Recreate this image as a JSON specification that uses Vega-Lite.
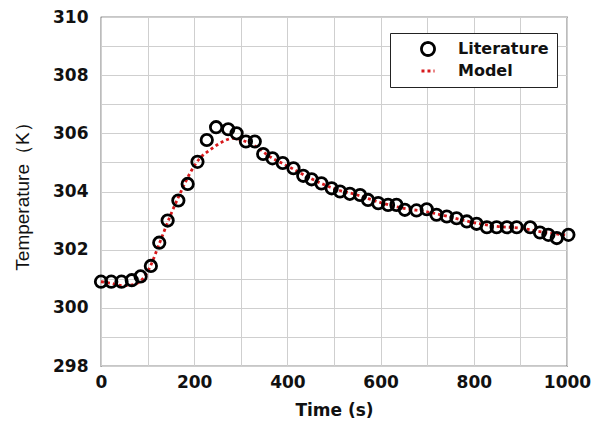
{
  "$schema": "https://vega.github.io/schema/vega-lite/v6.json",
  "autosize": {"type": "none"},
  "width": 466,
  "height": 349,
  "padding": {"left": 101, "top": 17, "right": 31, "bottom": 66},
  "background": "white",
  "config": {
    "font": "Liberation Sans",
    "view": {"stroke": "#222", "strokeWidth": 1.2},
    "axis": {"gridColor": "#cfcfcf", "gridWidth": 1, "ticks": false, "domain": false, "labelFont": "DejaVu Sans", "labelFontWeight": "bold", "labelFontSize": 17, "labelColor": "#111", "titleColor": "#111"}
  },
  "data": {"values": [
    {"t": 0, "T": 300.9, "series": "Literature"},
    {"t": 22, "T": 300.9, "series": "Literature"},
    {"t": 44, "T": 300.9, "series": "Literature"},
    {"t": 66, "T": 300.95, "series": "Literature"},
    {"t": 85, "T": 301.08, "series": "Literature"},
    {"t": 107, "T": 301.44, "series": "Literature"},
    {"t": 125, "T": 302.24, "series": "Literature"},
    {"t": 143, "T": 303.0, "series": "Literature"},
    {"t": 166, "T": 303.69, "series": "Literature"},
    {"t": 186, "T": 304.26, "series": "Literature"},
    {"t": 207, "T": 305.02, "series": "Literature"},
    {"t": 227, "T": 305.77, "series": "Literature"},
    {"t": 247, "T": 306.21, "series": "Literature"},
    {"t": 273, "T": 306.14, "series": "Literature"},
    {"t": 291, "T": 306.0, "series": "Literature"},
    {"t": 311, "T": 305.72, "series": "Literature"},
    {"t": 330, "T": 305.72, "series": "Literature"},
    {"t": 348, "T": 305.29, "series": "Literature"},
    {"t": 368, "T": 305.14, "series": "Literature"},
    {"t": 390, "T": 304.98, "series": "Literature"},
    {"t": 413, "T": 304.8, "series": "Literature"},
    {"t": 434, "T": 304.54, "series": "Literature"},
    {"t": 452, "T": 304.42, "series": "Literature"},
    {"t": 473, "T": 304.28, "series": "Literature"},
    {"t": 495, "T": 304.11, "series": "Literature"},
    {"t": 513, "T": 304.0, "series": "Literature"},
    {"t": 534, "T": 303.92, "series": "Literature"},
    {"t": 556, "T": 303.88, "series": "Literature"},
    {"t": 573, "T": 303.71, "series": "Literature"},
    {"t": 595, "T": 303.6, "series": "Literature"},
    {"t": 616, "T": 303.54, "series": "Literature"},
    {"t": 634, "T": 303.54, "series": "Literature"},
    {"t": 652, "T": 303.37, "series": "Literature"},
    {"t": 677, "T": 303.35, "series": "Literature"},
    {"t": 699, "T": 303.39, "series": "Literature"},
    {"t": 720, "T": 303.2, "series": "Literature"},
    {"t": 742, "T": 303.14, "series": "Literature"},
    {"t": 763, "T": 303.08, "series": "Literature"},
    {"t": 785, "T": 302.97, "series": "Literature"},
    {"t": 806, "T": 302.89, "series": "Literature"},
    {"t": 828, "T": 302.77, "series": "Literature"},
    {"t": 849, "T": 302.77, "series": "Literature"},
    {"t": 871, "T": 302.77, "series": "Literature"},
    {"t": 892, "T": 302.77, "series": "Literature"},
    {"t": 921, "T": 302.77, "series": "Literature"},
    {"t": 942, "T": 302.59, "series": "Literature"},
    {"t": 960, "T": 302.51, "series": "Literature"},
    {"t": 978, "T": 302.4, "series": "Literature"},
    {"t": 1003, "T": 302.51, "series": "Literature"},
    {"t": 0, "T": 300.9, "series": "Model"},
    {"t": 20, "T": 300.85, "series": "Model"},
    {"t": 47, "T": 300.76, "series": "Model"},
    {"t": 70, "T": 300.8, "series": "Model"},
    {"t": 90, "T": 301.0, "series": "Model"},
    {"t": 105, "T": 301.4, "series": "Model"},
    {"t": 125, "T": 302.2, "series": "Model"},
    {"t": 148, "T": 303.14, "series": "Model"},
    {"t": 170, "T": 303.94, "series": "Model"},
    {"t": 191, "T": 304.63, "series": "Model"},
    {"t": 212, "T": 305.14, "series": "Model"},
    {"t": 234, "T": 305.43, "series": "Model"},
    {"t": 262, "T": 305.72, "series": "Model"},
    {"t": 283, "T": 305.83, "series": "Model"},
    {"t": 305, "T": 305.75, "series": "Model"},
    {"t": 333, "T": 305.54, "series": "Model"},
    {"t": 362, "T": 305.2, "series": "Model"},
    {"t": 400, "T": 304.88, "series": "Model"},
    {"t": 450, "T": 304.45, "series": "Model"},
    {"t": 500, "T": 304.1, "series": "Model"},
    {"t": 550, "T": 303.88, "series": "Model"},
    {"t": 600, "T": 303.62, "series": "Model"},
    {"t": 650, "T": 303.42, "series": "Model"},
    {"t": 700, "T": 303.3, "series": "Model"},
    {"t": 750, "T": 303.12, "series": "Model"},
    {"t": 800, "T": 302.93, "series": "Model"},
    {"t": 850, "T": 302.8, "series": "Model"},
    {"t": 900, "T": 302.74, "series": "Model"},
    {"t": 950, "T": 302.6, "series": "Model"},
    {"t": 1000, "T": 302.5, "series": "Model"}
  ]},
  "encoding": {
    "x": {"field": "t", "type": "quantitative", "scale": {"domain": [0, 1000], "nice": false, "zero": false},
      "axis": {"values": [0,100,200,300,400,500,600,700,800,900,1000], "format": "d", "labelExpr": "datum.value % 200 == 0 ? datum.label : ''", "labelPadding": 8, "title": "Time (s)", "titleFont": "DejaVu Sans", "titleFontSize": 17, "titleFontWeight": "bold", "titlePadding": 12, "labelFlush": false}},
    "y": {"field": "T", "type": "quantitative", "scale": {"domain": [298, 310], "nice": false, "zero": false},
      "axis": {"values": [298,299,300,301,302,303,304,305,306,307,308,309,310], "labelExpr": "datum.value % 2 == 0 ? datum.label : ''", "labelPadding": 13, "title": "Temperature（K）", "titleFont": "Liberation Sans", "titleFontSize": 19, "titleFontWeight": "normal", "titlePadding": 20, "labelFlush": false}},
    "color": {"field": "series", "type": "nominal", "scale": {"domain": ["Literature", "Model"], "range": ["#000000", "#d7191c"]},
      "legend": {"title": null, "orient": "none", "legendX": 289, "legendY": 16, "strokeColor": "#222", "fillColor": "white", "padding": 8, "labelFontSize": 16, "labelFontWeight": "bold", "labelFont": "DejaVu Sans", "labelColor": "#111", "symbolStrokeWidth": 2.8, "symbolSize": 170, "symbolOffset": 22, "labelOffset": 22, "rowPadding": 1, "cornerRadius": 0}}
  },
  "layer": [
    {
      "transform": [{"filter": "datum.series == 'Model'"}],
      "mark": {"type": "line", "strokeWidth": 2.8, "interpolate": "monotone"},
      "encoding": {
        "strokeDash": {"field": "series", "type": "nominal", "scale": {"domain": ["Literature", "Model"], "range": [[1, 0], [3, 3]]}, "legend": {"title": null}}
      }
    },
    {
      "transform": [{"filter": "datum.series == 'Literature'"}],
      "mark": {"type": "point", "filled": false, "strokeWidth": 2.8, "size": 130, "opacity": 1},
      "encoding": {
        "shape": {"field": "series", "type": "nominal", "scale": {"domain": ["Literature", "Model"], "range": ["circle", "stroke"]}, "legend": {"title": null}}
      }
    }
  ]
}
